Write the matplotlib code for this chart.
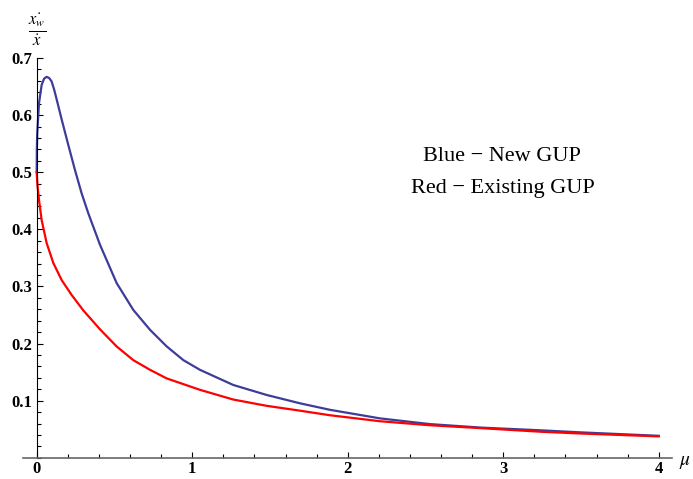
import numpy as np
import matplotlib.pyplot as plt
from matplotlib.ticker import MultipleLocator

plt.rcParams['mathtext.fontset'] = 'stix'

# values
mu_blue = [0, 0.001, 0.003, 0.006, 0.015, 0.032, 0.048, 0.064, 0.080, 0.096, 0.112,
           0.129, 0.161, 0.203, 0.246, 0.289, 0.332, 0.407, 0.514, 0.621, 0.729,
           0.836, 0.943, 1.05, 1.264, 1.479, 1.693, 1.886, 2.208, 2.529, 2.85,
           3.25, 3.5, 4.0]
v_blue = [0.5, 0.54, 0.565, 0.580, 0.621, 0.653, 0.664, 0.667, 0.665, 0.659, 0.645,
          0.627, 0.592, 0.548, 0.504, 0.463, 0.428, 0.373, 0.306, 0.259, 0.224,
          0.195, 0.171, 0.154, 0.1275, 0.110, 0.0954, 0.084, 0.069, 0.059, 0.053,
          0.048, 0.0445, 0.0385]

mu_red = [0, 0.005, 0.015, 0.032, 0.064, 0.107, 0.161, 0.225, 0.300, 0.407, 0.514,
          0.621, 0.729, 0.836, 1.05, 1.264, 1.479, 1.693, 1.886, 2.208, 2.529,
          2.85, 3.25, 3.5, 4.0]
v_red = [0.5, 0.477, 0.451, 0.416, 0.376, 0.341, 0.311, 0.285, 0.258, 0.225, 0.195,
         0.171, 0.154, 0.139, 0.119, 0.102, 0.091, 0.0825, 0.0745, 0.064, 0.057,
         0.052, 0.0455, 0.0425, 0.0375]

fig = plt.figure(figsize=(6.93, 4.79), dpi=100)
ax = fig.add_axes([23/693, 21.2/479, (672-23)/693, (457.8-58)/479])

ax.plot(mu_blue, v_blue, color='#3d3d99', lw=1.6, clip_on=False)
ax.plot(mu_red, v_red, color='#ff0000', lw=1.6, clip_on=False)

ax.set_xlim(-0.088, 4.085)
ax.set_ylim(0, 0.7)

ax.spines['top'].set_visible(False)
ax.spines['right'].set_visible(False)
ax.spines['left'].set_position(('data', 0))
ax.spines['left'].set_color('black')
ax.spines['bottom'].set_color('#666666')
ax.spines['bottom'].set_linewidth(1.2)

ax.xaxis.set_major_locator(MultipleLocator(1))
ax.xaxis.set_minor_locator(MultipleLocator(0.2))
ax.yaxis.set_major_locator(MultipleLocator(0.1))
ax.yaxis.set_minor_locator(MultipleLocator(0.02))
ax.set_yticks([0.1, 0.2, 0.3, 0.4, 0.5, 0.6, 0.7])
ax.set_yticklabels(['0.1', '0.2', '0.3', '0.4', '0.5', '0.6', '0.7'])
ax.tick_params(which='both', direction='in', width=0.8)
ax.tick_params(which='major', length=4.5)
ax.tick_params(which='minor', length=3)
ax.tick_params(axis='x', pad=2.5)
ax.tick_params(axis='y', pad=3)

for lab in ax.get_xticklabels() + ax.get_yticklabels():
    lab.set_family('Liberation Serif')
    lab.set_fontweight('bold')
    lab.set_fontsize(12)

ax.text(4.169, -0.007, r'$\mu$', fontsize=14, ha='center', va='center', clip_on=False)
ax.text(0, 0.749, r'$\frac{\dot{x_w}}{\dot{x}}$', fontsize=17, ha='center', va='center',
        clip_on=False)

ax.text(2.992, 0.527, 'Blue \u2212 New GUP', family='Liberation Serif', fontsize=16,
        ha='center', va='center')
ax.text(2.998, 0.472, 'Red \u2212 Existing GUP', family='Liberation Serif', fontsize=16,
        ha='center', va='center')

plt.savefig('out.png', dpi=100)
